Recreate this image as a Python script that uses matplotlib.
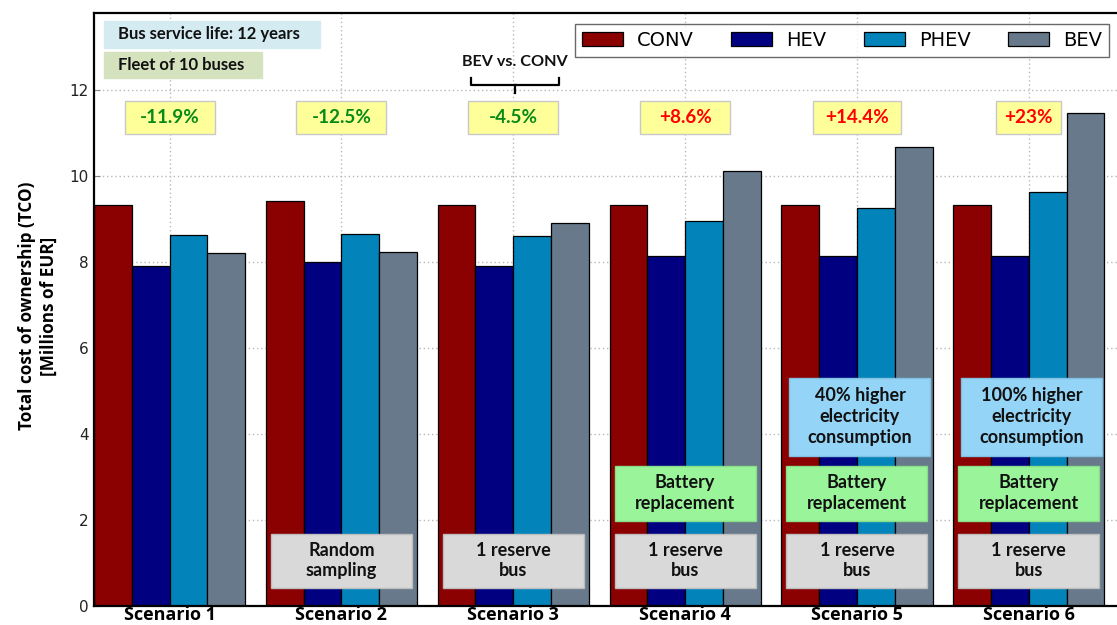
import matplotlib
matplotlib.use("Agg")
import matplotlib.pyplot as plt
from matplotlib.patches import Rectangle
import numpy as np

# ---------------- data ----------------
scenarios = ["Scenario 1", "Scenario 2", "Scenario 3", "Scenario 4", "Scenario 5", "Scenario 6"]
series_names = ["CONV", "HEV", "PHEV", "BEV"]
conv = [9.33, 9.43, 9.33, 9.33, 9.33, 9.33]
hev = [7.91, 7.99, 7.90, 8.13, 8.13, 8.13]
phev = [8.62, 8.66, 8.61, 8.96, 9.26, 9.62]
bev = [8.22, 8.24, 8.91, 10.13, 10.67, 11.48]
pct_labels = ["-11.9%", "-12.5%", "-4.5%", "+8.6%", "+14.4%", "+23%"]
yticks = [0, 2, 4, 6, 8, 10, 12]

colors = ["#8B0000", "#000080", "#0284BA", "#67798A"]

# ---------------- figure / axes geometry ----------------
W, H, DPI = 1117, 625, 100
fig = plt.figure(figsize=(W / DPI, H / DPI), dpi=DPI)

XMIN, XMAX = -0.44, 5.56
YMIN, YMAX = 0, 13.8
ax_left_px, ax_right_px = 94, 1125
ax_top_px, ax_bottom_px = 13, 605.5
ax = fig.add_axes([ax_left_px / W, (H - ax_bottom_px) / H,
                   (ax_right_px - ax_left_px) / W, (ax_bottom_px - ax_top_px) / H])
ax.set_xlim(XMIN, XMAX)
ax.set_ylim(YMIN, YMAX)
XS = (ax_right_px - ax_left_px) / (XMAX - XMIN)   # px per x unit
YS = (ax_bottom_px - ax_top_px) / (YMAX - YMIN)   # px per y unit

def px_w(p):
    return p / XS

def px_h(p):
    return p / YS

def y_at(py):
    return YMIN + (ax_bottom_px - py) / YS

def x_at(px):
    return XMIN + (px - ax_left_px) / XS

# ---------------- bars ----------------
x = np.arange(len(scenarios))
bw = 0.22
all_series = [conv, hev, phev, bev]
for i, (name, vals, c) in enumerate(zip(series_names, all_series, colors)):
    ax.bar(x + (i - 1.5) * bw, vals, width=bw, color=c, edgecolor="black",
           linewidth=0.9, label=name, zorder=2)

ax.set_axisbelow(True)
ax.grid(True, linestyle=(0, (1, 2)), color="#B8B8B8", linewidth=1.0)
ax.set_xticks(x)
ax.set_xticklabels(scenarios, fontfamily="Open Sans", fontweight="bold", fontsize=13)
ax.set_yticks(yticks)
ax.set_yticklabels([str(v) for v in yticks], fontsize=11, color="#222222")
ax.tick_params(axis="both", direction="in", length=4, width=0.8, color="#888888")
ax.tick_params(axis="x", pad=0.5)
ax.tick_params(axis="y", pad=4)
for s in ax.spines.values():
    s.set_linewidth(1.6)
    s.set_color("black")

ax.set_ylabel("Total cost of ownership (TCO)\n[Millions of EUR]",
              fontfamily="Open Sans", fontweight="bold", fontsize=12.3, linespacing=1.3)
ax.yaxis.set_label_coords((58 - ax_left_px) / (ax_right_px - ax_left_px), 0.505)

# ---------------- annotation boxes ----------------
def box(xc, yc, w_px, h_px, text, fc, ec, tcolor="#111111", fs=13, ls=1.25, ha="center", tx=None):
    w = px_w(w_px)
    h = px_h(h_px)
    ax.add_patch(Rectangle((xc - w / 2, yc - h / 2), w, h, facecolor=fc, edgecolor=ec,
                           linewidth=1.0, zorder=4))
    ax.text(xc if tx is None else tx, yc, text, ha=ha, va="center", color=tcolor,
            fontfamily="Lato", fontweight="bold", fontsize=fs, linespacing=ls, zorder=5)

# percentage boxes
pct_y = y_at(117.5)
pct_widths = [90, 90, 90, 90, 88, 65]
for i, (lab, wpx) in enumerate(zip(pct_labels, pct_widths)):
    col = "#078A17" if lab.startswith("-") else "#FF0000"
    box(x[i], pct_y, wpx, 33, lab, "#FFFF99", "#C8C8C8", tcolor=col, fs=13.6)

# top-left info boxes
bx_left = x_at(104)
w1 = 216
box(bx_left + px_w(w1) / 2, y_at(34.5), w1, 27, "Bus service life: 12 years",
    "#D5EBF2", "#D5EBF2", fs=12, ha="left", tx=bx_left + px_w(14))
w2 = 158
box(bx_left + px_w(w2) / 2, y_at(65), w2, 26, "Fleet of 10 buses",
    "#D5E2BE", "#D5E2BE", fs=12, ha="left", tx=bx_left + px_w(14))

# bottom scenario boxes
grey_fc, grey_ec = "#D9D9D9", "#BDBDBD"
green_fc, green_ec = "#9AF59A", "#88DD88"
blue_fc, blue_ec = "#93D4F7", "#80C0E0"
bw_px = 141
y_res = y_at(560.5)
y_bat = y_at(493)
y_ele = y_at(416.5)
box(x[1], y_res, bw_px, 54, "Random\nsampling", grey_fc, grey_ec)
for i in [2, 3, 4, 5]:
    box(x[i], y_res, bw_px, 54, "1 reserve\nbus", grey_fc, grey_ec)
for i in [3, 4, 5]:
    box(x[i], y_bat, bw_px, 55, "Battery\nreplacement", green_fc, green_ec)
box(x[4] + px_w(3), y_ele, bw_px, 78, "40% higher\nelectricity\nconsumption", blue_fc, blue_ec)
box(x[5] + px_w(3), y_ele, bw_px, 78, "100% higher\nelectricity\nconsumption", blue_fc, blue_ec)

# "BEV vs. CONV" with bracket
bc = x[2] + px_w(2)
ax.text(bc, y_at(62), "BEV vs. CONV", ha="center", va="center", fontfamily="Lato",
        fontweight="bold", fontsize=11.6, color="#111111", zorder=5)
half = px_w(44)
ax.plot([bc - half, bc - half, bc + half, bc + half],
        [y_at(78), y_at(85), y_at(85), y_at(78)], color="black", lw=1.6,
        solid_joinstyle="round", zorder=5)
ax.plot([bc, bc], [y_at(85), y_at(93)], color="black", lw=1.6, zorder=5)

# ---------------- legend ----------------
leg = ax.legend(loc="upper right", bbox_to_anchor=(1109 / W, 1 - 24 / H),
                bbox_transform=fig.transFigure, ncol=4, fontsize=14, frameon=True,
                fancybox=False, edgecolor="#444444", borderaxespad=0,
                handlelength=2.1, handleheight=0.75, handletextpad=0.75,
                columnspacing=1.9, borderpad=0.35)
leg.get_frame().set_linewidth(1.0)
leg.set_zorder(6)

fig.savefig("out.png", dpi=DPI)
